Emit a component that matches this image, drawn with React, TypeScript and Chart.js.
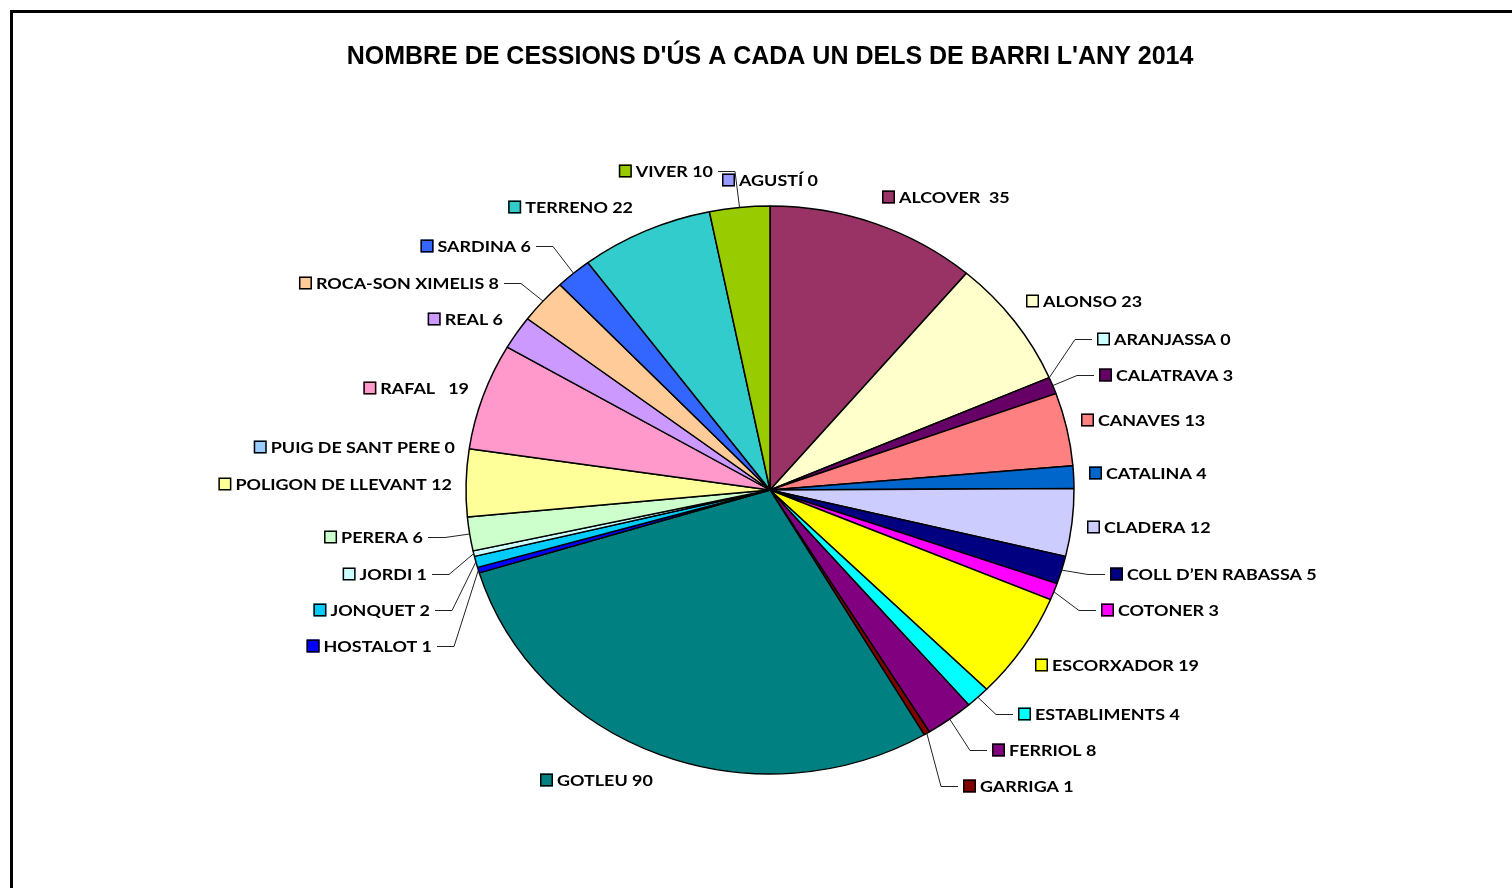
import React, { useEffect, useRef } from "react";
import { Chart, registerables } from "chart.js";

Chart.register(...registerables);

const TITLE = "NOMBRE DE CESSIONS D'ÚS A CADA UN DELS DE BARRI L'ANY 2014";

const barris = [
  "ALCOVER", "ALONSO", "ARANJASSA", "CALATRAVA", "CANAVES", "CATALINA", "CLADERA",
  "COLL D’EN RABASSA", "COTONER", "ESCORXADOR", "ESTABLIMENTS", "FERRIOL", "GARRIGA",
  "GOTLEU", "HOSTALOT", "JONQUET", "JORDI", "PERERA", "POLIGON DE LLEVANT",
  "PUIG DE SANT PERE", "RAFAL", "REAL", "ROCA-SON XIMELIS", "SARDINA", "TERRENO",
  "VIVER", "AGUSTÍ",
];

const cessions = [35, 23, 0, 3, 13, 4, 12, 5, 3, 19, 4, 8, 1, 90, 1, 2, 1, 6, 12, 0, 19, 6, 8, 6, 22, 10, 0];

// spacing between name and value in each label
const separators = ["  ", " ", " ", " ", " ", " ", " ", " ", " ", " ", " ", " ", " ", " ", " ", " ", " ", " ", " ", " ", "   ", " ", " ", " ", " ", " ", " "];

const colors = [
  "#993366", "#FFFFCC", "#CCFFFF", "#660066", "#FF8080", "#0066CC", "#CCCCFF",
  "#000080", "#FF00FF", "#FFFF00", "#00FFFF", "#800080", "#800000",
  "#008080", "#0000FF", "#00CCFF", "#CCFFFF", "#CCFFCC", "#FFFF99",
  "#99CCFF", "#FF99CC", "#CC99FF", "#FFCC99", "#3366FF", "#33CCCC",
  "#99CC00", "#9999FF",
];

// label layout: side ("R": x = key square left, "L": x = text right edge), y = centre, leader line
const labelSide = ["R", "R", "R", "R", "R", "R", "R", "R", "R", "R", "R", "R", "R", "R", "L", "L", "L", "L", "L", "L", "L", "L", "L", "L", "L", "L", "R"];
const labelX = [882, 1026, 1097, 1099, 1081, 1089, 1087, 1110, 1101, 1035, 1018, 992, 963, 540, 432, 430, 427, 423, 452, 455, 469, 503, 499, 531, 633, 713, 722];
const labelY = [197, 301, 339, 375, 420, 473, 527, 574, 610, 665, 714, 750, 786, 780, 646, 610, 574, 537, 484, 447, 388, 319, 283, 246, 207, 171, 180];
const labelLeader = [false, false, true, true, false, false, false, true, true, false, true, true, true, false, true, true, true, true, false, false, false, false, true, true, false, true, false];

const Y_SQUASH = 284 / 304;
const LABEL_FONT = "bold 16px Lato";
const TEXT_STRETCH = 1.12;
const KEY = 13;

const ellipsePlugin = {
  id: "ellipse",
  beforeDatasetsDraw(chart: any) {
    const arc = chart.getDatasetMeta(0).data[0];
    if (!arc) return;
    const ctx = chart.ctx;
    ctx.save();
    ctx.translate(arc.x, arc.y);
    ctx.scale(1, Y_SQUASH);
    ctx.translate(-arc.x, -arc.y);
  },
  afterDatasetsDraw(chart: any) {
    chart.ctx.restore();
  },
};

const labelsPlugin = {
  id: "pieLabels",
  afterDraw(chart: any) {
    const ctx = chart.ctx;
    const meta = chart.getDatasetMeta(0);
    ctx.save();
    // frame
    ctx.fillStyle = "#000";
    ctx.fillRect(10, 10, chart.width - 10, 3);
    ctx.fillRect(10, 10, 3, chart.height - 10);

    ctx.font = LABEL_FONT;
    ctx.textBaseline = "middle";
    meta.data.forEach((arc: any, i: number) => {
      const text = `${barris[i]}${separators[i]}${cessions[i]}`;
      const w = ctx.measureText(text).width * TEXT_STRETCH;
      const y = labelY[i];
      let keyX: number;
      if (labelSide[i] === "R") keyX = labelX[i];
      else keyX = labelX[i] - w - 4 - KEY;
      const textX = keyX + KEY + 4;

      if (labelLeader[i]) {
        const mid = (arc.startAngle + arc.endAngle) / 2;
        const r = arc.outerRadius;
        const px = arc.x + r * Math.cos(mid);
        const py = arc.y + r * Y_SQUASH * Math.sin(mid);
        ctx.strokeStyle = "#222";
        ctx.lineWidth = 1;
        ctx.beginPath();
        if (labelSide[i] === "R") {
          const sx = keyX - 5;
          ctx.moveTo(sx, y + 0.5);
          ctx.lineTo(sx - 17, y + 0.5);
        } else {
          const sx = textX + w + 5;
          ctx.moveTo(sx, y + 0.5);
          ctx.lineTo(sx + 17, y + 0.5);
        }
        ctx.lineTo(px, py);
        ctx.stroke();
      }

      ctx.fillStyle = colors[i];
      ctx.fillRect(keyX, y - KEY / 2, KEY, KEY);
      ctx.strokeStyle = "#000";
      ctx.lineWidth = 1.5;
      ctx.strokeRect(keyX + 0.75, y - KEY / 2 + 0.75, KEY - 1.5, KEY - 1.5);

      ctx.save();
      ctx.translate(textX, y + 1);
      ctx.scale(TEXT_STRETCH, 1);
      ctx.fillStyle = "#000";
      ctx.fillText(text, 0, 0);
      ctx.restore();
    });
    ctx.restore();
  },
};

export default function App() {
  const ref = useRef<HTMLCanvasElement | null>(null);
  useEffect(() => {
    if (!ref.current) return;
    const chart = new Chart(ref.current, {
      type: "pie",
      data: {
        labels: barris,
        datasets: [
          {
            data: cessions,
            backgroundColor: colors,
            borderColor: "#000",
            borderWidth: 1.5,
            radius: 304,
          } as any,
        ],
      },
      options: {
        responsive: false,
        animation: false,
        layout: { padding: { left: 100, right: 72, top: 0, bottom: 8 } },
        plugins: {
          legend: { display: false },
          tooltip: { enabled: false },
          title: {
            display: true,
            text: TITLE,
            color: "#000",
            font: { family: "'Liberation Sans', Arial, sans-serif", size: 25, weight: "bold", lineHeight: 1.2 },
            padding: { top: 42.5, bottom: 27.5 },
          },
        },
      },
      plugins: [ellipsePlugin, labelsPlugin],
    });
    return () => chart.destroy();
  }, []);
  return (
    <div style={{ position: "absolute", left: 0, top: 0, width: 1512, height: 888, background: "#fff" }}>
      <canvas ref={ref} width={1512} height={888} style={{ display: "block" }} />
    </div>
  );
}
